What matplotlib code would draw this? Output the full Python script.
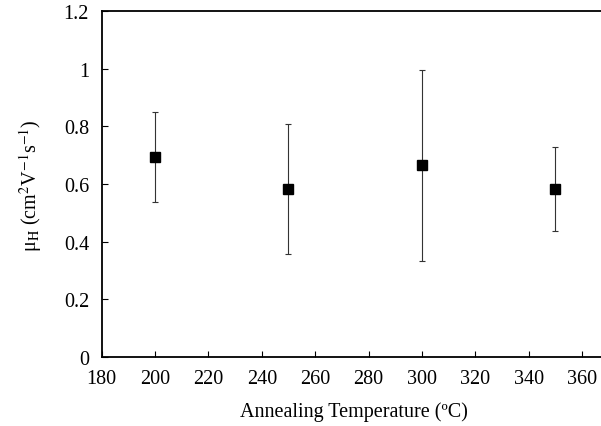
import matplotlib
matplotlib.use("Agg")
import matplotlib.pyplot as plt
import numpy as np

plt.rcParams['font.family'] = 'Liberation Serif'
plt.rcParams['mathtext.fontset'] = 'stix'

# Hall mobility vs annealing temperature
temps = [200, 250, 300, 350]
mobility = [0.695, 0.582, 0.667, 0.584]
err_low = [0.539, 0.357, 0.334, 0.438]
err_high = [0.851, 0.808, 0.996, 0.730]

yerr = [np.array(mobility) - np.array(err_low), np.array(err_high) - np.array(mobility)]

fig = plt.figure(figsize=(6.01, 4.27), dpi=100)
ax = fig.add_axes([0.169, 0.1623, 0.8885, 0.809])

ax.errorbar(temps, mobility, yerr=yerr, fmt='s', color='black', ms=7.5,
            ecolor='#333333', elinewidth=0.8, capsize=2.5, capthick=0.8)

ax.set_xlim(180, 380)
ax.set_ylim(0, 1.2)
ax.set_xticks(range(180, 380, 20))
ax.set_yticks([0, 0.2, 0.4, 0.6, 0.8, 1.0, 1.2])
ax.set_yticklabels(['0', '0.2', '0.4', '0.6', '0.8', '1', '1.2'])
ax.tick_params(direction='in', length=4, width=0.8, labelsize=14.5)
ax.tick_params(axis='y', pad=9)
ax.tick_params(axis='x', pad=9)
for s in ax.spines.values():
    s.set_linewidth(1.3)

ax.set_xlabel('Annealing Temperature (ºC)', fontsize=14.5)
fig.text(0.05, 0.566, 'μ$_{\\rm H}$ (cm$^2$V$^{-1}$s$^{-1}$)', rotation=90,
         fontsize=14.5, ha='center', va='center')
# x-label sits under the visible part of the axis
ax.xaxis.set_label_coords((354 / 601 - 0.169) / 0.8885, -0.128)

fig.savefig('out.png', dpi=100)
